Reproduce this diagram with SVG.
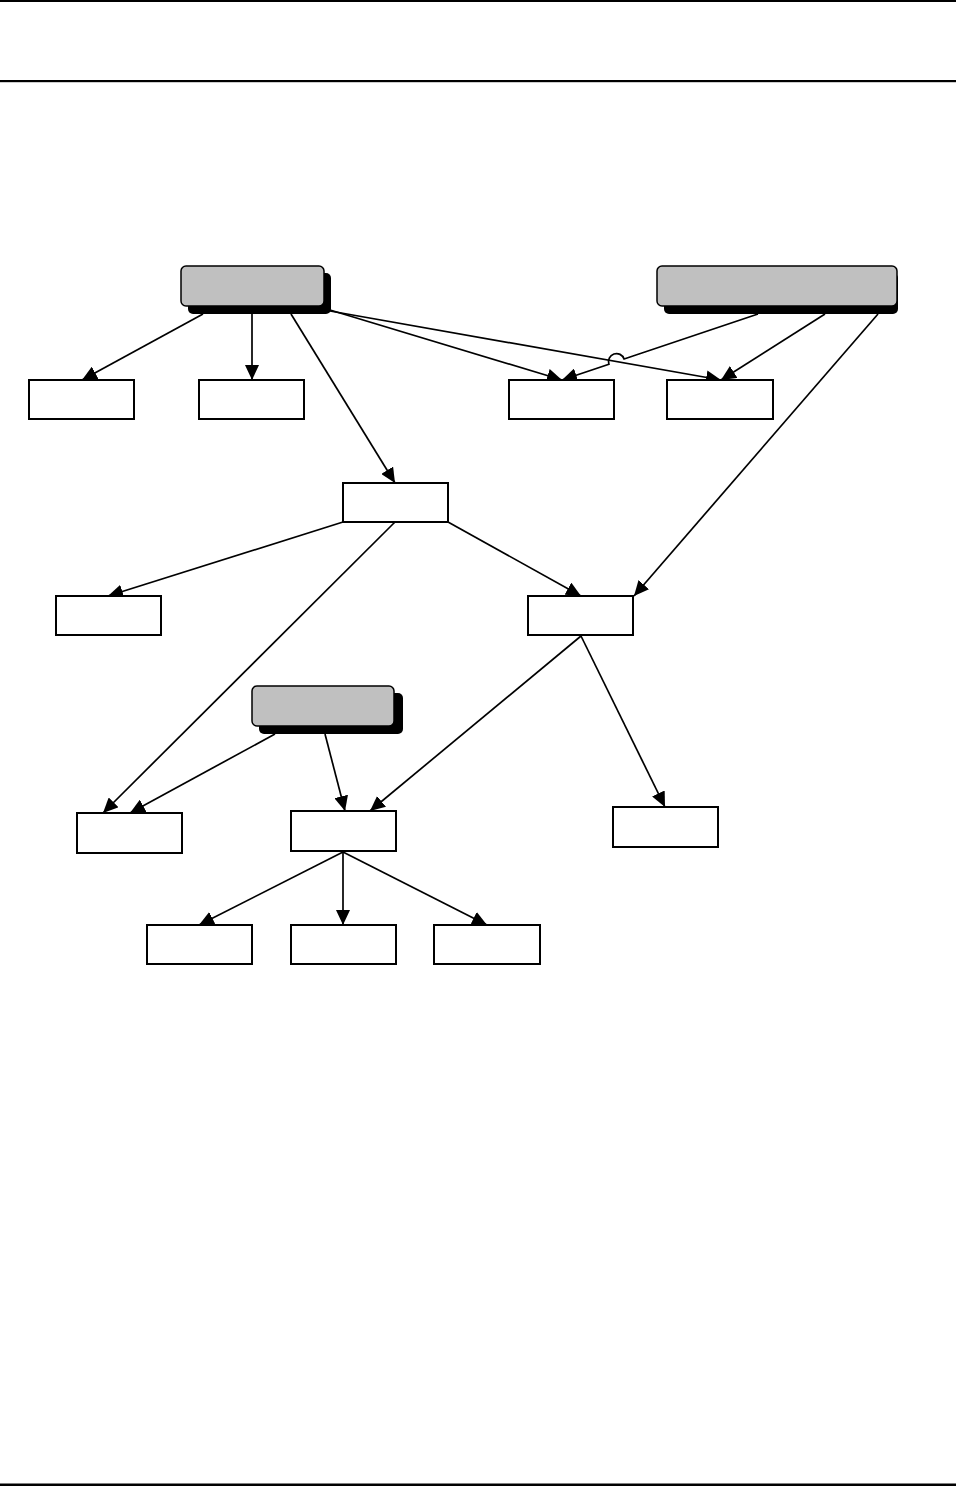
<svg xmlns="http://www.w3.org/2000/svg" width="956" height="1486" viewBox="0 0 956 1486">
<style>
.box{fill:#fff;stroke:#000;stroke-width:2}
.g{fill:#c0c0c0;stroke:#000;stroke-width:1.5}
.sh{fill:#000}
.c{fill:none;stroke:#000;stroke-width:1.7;marker-end:url(#ah)}
.rule{fill:#000}
</style>
<defs>
<marker id="ah" viewBox="0 0 15 14" refX="15" refY="7" markerWidth="15" markerHeight="14" markerUnits="userSpaceOnUse" orient="auto">
<path d="M0,0 L15,7 L0,14 z" fill="#000"/>
</marker>
</defs>
<rect class="rule" x="0" y="0" width="956" height="2"/>
<rect class="rule" x="0" y="80" width="956" height="2.2"/>
<rect class="rule" x="0" y="1483.5" width="956" height="2.5"/>
<g id="connectors">
<line class="c" x1="203" y1="314" x2="82" y2="380"/>
<line class="c" x1="252" y1="314" x2="252" y2="380"/>
<line class="c" x1="291" y1="314" x2="395" y2="483"/>
<line class="c" x1="330" y1="310" x2="562" y2="380"/>
<line class="c" x1="330" y1="311" x2="721" y2="380"/>
<path class="c" d="M758,314 L624.1,359 A8,8 0 0 0 608.9,364.2 L562,380"/>
<line class="c" x1="825" y1="314" x2="721" y2="380"/>
<line class="c" x1="878" y1="314" x2="634" y2="596"/>
<line class="c" x1="343" y1="522" x2="108" y2="596"/>
<line class="c" x1="395" y1="522" x2="103" y2="813"/>
<line class="c" x1="448" y1="522" x2="581" y2="596"/>
<line class="c" x1="581" y1="636" x2="370" y2="811"/>
<line class="c" x1="581" y1="636" x2="665" y2="807"/>
<line class="c" x1="275" y1="734" x2="130" y2="813"/>
<line class="c" x1="325" y1="734" x2="345" y2="811"/>
<line class="c" x1="343" y1="852" x2="199" y2="925"/>
<line class="c" x1="343" y1="852" x2="343" y2="925"/>
<line class="c" x1="343" y1="852" x2="487" y2="925"/>
</g>
<g id="nodeA">
<rect class="sh" x="188" y="273" width="143" height="41" rx="5"/>
<rect class="g" x="181" y="266" width="143" height="40" rx="5"/>
</g>
<g id="nodeB">
<rect class="sh" x="664" y="273" width="234" height="41" rx="5"/>
<rect class="g" x="657" y="266" width="240" height="40" rx="5"/>
</g>
<g id="nodeC">
<rect class="sh" x="259" y="693" width="144" height="41" rx="5"/>
<rect class="g" x="252" y="686" width="142" height="40" rx="5"/>
</g>
<g id="n1"><rect class="box" x="29" y="380" width="105" height="39"/></g>
<g id="n2"><rect class="box" x="199" y="380" width="105" height="39"/></g>
<g id="n3"><rect class="box" x="509" y="380" width="105" height="39"/></g>
<g id="n4"><rect class="box" x="667" y="380" width="106" height="39"/></g>
<g id="n5"><rect class="box" x="343" y="483" width="105" height="39"/></g>
<g id="n6"><rect class="box" x="56" y="596" width="105" height="39"/></g>
<g id="n7"><rect class="box" x="528" y="596" width="105" height="39"/></g>
<g id="n8"><rect class="box" x="77" y="813" width="105" height="40"/></g>
<g id="n9"><rect class="box" x="291" y="811" width="105" height="40"/></g>
<g id="n10"><rect class="box" x="613" y="807" width="105" height="40"/></g>
<g id="n11"><rect class="box" x="147" y="925" width="105" height="39"/></g>
<g id="n12"><rect class="box" x="291" y="925" width="105" height="39"/></g>
<g id="n13"><rect class="box" x="434" y="925" width="106" height="39"/></g>
</svg>
